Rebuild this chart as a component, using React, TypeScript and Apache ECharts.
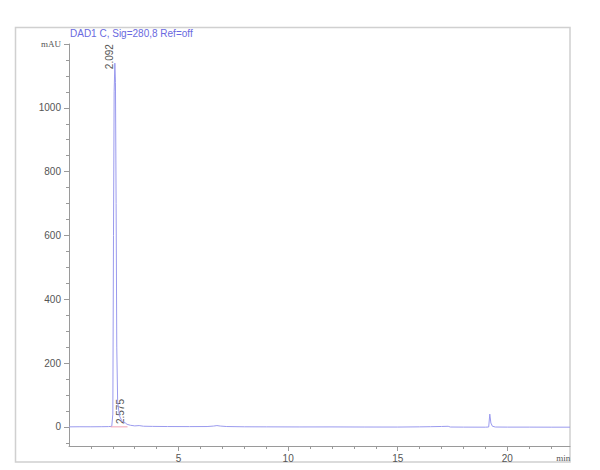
import { useEffect, useRef } from 'react';
import * as echarts from 'echarts';

const TITLE = 'DAD1 C, Sig=280,8 Ref=off';

const times = [
  0, 0.5, 1.0, 1.5, 1.8, 1.95, 2.0, 2.03, 2.06, 2.092, 2.12, 2.15, 2.18, 2.22, 2.3,
  2.4, 2.5, 2.575, 2.65, 2.8, 3.0, 3.2, 3.4, 3.8, 4.5, 5.5, 6.3, 6.6, 6.75, 6.9,
  7.2, 8.0, 9.0, 10.5, 12.0, 13.5, 15.0, 16.0, 16.5, 17.0, 17.3, 17.4, 18.0, 19.0,
  19.15, 19.2, 19.25, 19.32, 19.45, 20.0, 21.0, 22.0, 22.86,
];
const signal = [
  0, 0.3, 0.2, 0.5, 0.8, 1.5, 40, 600, 1050, 1140, 1080, 700, 250, 80, 35,
  20, 14, 12, 8, 5, 3, 4, 2, 1.5, 1, 0.8, 1, 2.5, 4, 2.5,
  1, 0.2, 0, -0.3, -0.2, -0.5, -0.6, 0, 0.5, 1.2, 1.8, -0.5, -0.8, -1,
  -0.5, 40, 12, 2, -0.5, -0.8, -0.8, -1, -1,
];

const peakTimes = [2.092, 2.575];
const peakHeights = [1140, 12];
const peakLabels = ['2.092', '2.575'];

const baselineTimes = [1.9, 2.67];
const baselineValues = [0, 0];

const yMajorTicks = [0, 200, 400, 600, 800, 1000, 1200];
const yMinorTicks = [
  -50, 50, 100, 150, 250, 300, 350, 450, 500, 550, 650, 700, 750, 850, 900, 950,
  1050, 1100, 1150,
];
const xMajorTicks = [5, 10, 15, 20];
const xLabelTicks = [5, 10, 15, 20, 22.55];
const xMinorTicks = [1, 2, 3, 4, 6, 7, 8, 9, 11, 12, 13, 14, 16, 17, 18, 19, 21, 22];

const SANS = 'Liberation Sans, Arial, sans-serif';
const SERIF = 'Liberation Serif, Times New Roman, serif';
const AXIS_COLOR = '#9a9a9a';
const LABEL_COLOR = '#555';

// the integrator draws peak labels a little off the apex
const labelShift = [6, 1];

export default function App() {
  const chartRef = useRef<HTMLDivElement | null>(null);

  useEffect(() => {
    const element = chartRef.current;
    if (!element) {
      return;
    }

    const chart = echarts.init(element, null, { renderer: 'svg' });

    const unitRich = {
      u: { fontFamily: SERIF, fontSize: 9, color: LABEL_COLOR },
    };

    chart.setOption({
      animation: false,
      title: {
        text: TITLE,
        left: 70,
        top: 28,
        padding: 0,
        textStyle: {
          fontFamily: SANS,
          fontSize: 10,
          fontWeight: 'normal',
          color: '#6a6ae0',
        },
      },
      grid: { left: 69, right: 30, top: 44, bottom: 24 },
      xAxis: [
        {
          type: 'value',
          position: 'bottom',
          min: 0,
          max: 22.86,
          splitLine: { show: false },
          axisLine: { onZero: false, lineStyle: { color: AXIS_COLOR, width: 1 } },
          axisTick: { customValues: xMajorTicks, length: 5, lineStyle: { color: AXIS_COLOR } },
          axisLabel: {
            customValues: xLabelTicks,
            margin: 7,
            fontFamily: SANS,
            fontSize: 10,
            color: LABEL_COLOR,
            formatter: (v: number) => (v > 22 ? '{u|min}' : String(v)),
            rich: unitRich,
          },
        },
        {
          type: 'value',
          position: 'bottom',
          min: 0,
          max: 22.86,
          splitLine: { show: false },
          axisLine: { show: false, onZero: false },
          axisTick: { customValues: xMinorTicks, length: 3, lineStyle: { color: AXIS_COLOR } },
          axisLabel: { show: false },
        },
      ],
      yAxis: [
        {
          type: 'value',
          position: 'left',
          min: -60,
          max: 1200,
          splitLine: { show: false },
          axisLine: { show: true, onZero: false, lineStyle: { color: AXIS_COLOR, width: 1 } },
          axisTick: { customValues: yMajorTicks, length: 5, lineStyle: { color: AXIS_COLOR } },
          axisLabel: {
            customValues: yMajorTicks,
            margin: 8,
            fontFamily: SANS,
            fontSize: 10,
            color: LABEL_COLOR,
            formatter: (v: number) => (v === 1200 ? '{u|mAU}' : String(v)),
            rich: unitRich,
          },
        },
        {
          type: 'value',
          position: 'left',
          min: -60,
          max: 1200,
          splitLine: { show: false },
          axisLine: { show: false, onZero: false },
          axisTick: { customValues: yMinorTicks, length: 3, lineStyle: { color: AXIS_COLOR } },
          axisLabel: { show: false },
        },
      ],
      series: [
        {
          type: 'line',
          xAxisIndex: 0,
          yAxisIndex: 0,
          data: times.map((t, i) => [t, signal[i]]),
          showSymbol: false,
          lineStyle: { color: '#9a9aee', width: 1 },
          silent: true,
        },
        {
          type: 'line',
          xAxisIndex: 0,
          yAxisIndex: 0,
          data: baselineTimes.map((t, i) => [t, baselineValues[i]]),
          showSymbol: false,
          lineStyle: { color: '#f2a0b4', width: 1 },
          silent: true,
        },
      ],
    });

    const labels = peakTimes.map((t, i) => {
      const [px, py] = chart.convertToPixel({ seriesIndex: 0 }, [t, peakHeights[i]]) as number[];
      return {
        type: 'text',
        x: px,
        y: py + labelShift[i],
        rotation: Math.PI / 2,
        style: {
          text: peakLabels[i],
          fontFamily: SANS,
          fontSize: 10,
          fill: LABEL_COLOR,
          align: 'left',
          verticalAlign: 'bottom',
        },
        silent: true,
      };
    });

    chart.setOption({
      graphic: [
        {
          type: 'rect',
          shape: { x: 15.5, y: 27.5, width: 554.5, height: 434.5 },
          style: { fill: 'none', stroke: '#d0d0d0', lineWidth: 1.5 },
          silent: true,
          z: -1,
        },
        ...labels,
      ],
    });

    return () => {
      chart.dispose();
    };
  }, []);

  return (
    <div
      ref={chartRef}
      style={{ position: 'absolute', left: 0, top: 0, width: 600, height: 470, background: '#fff' }}
    />
  );
}
